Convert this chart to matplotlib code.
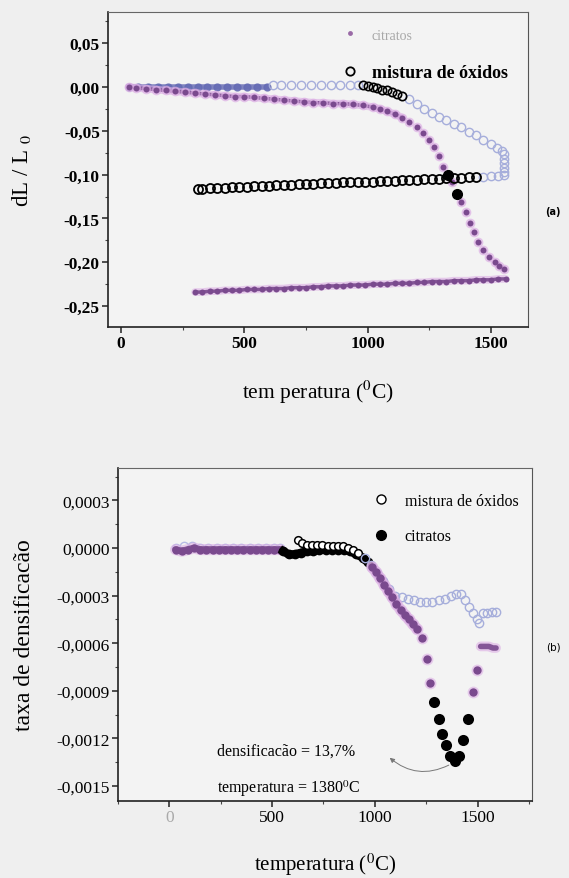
import matplotlib
matplotlib.use('Agg')
import matplotlib.pyplot as plt
from matplotlib.lines import Line2D
from matplotlib.ticker import MultipleLocator, FuncFormatter

plt.rcParams['font.family'] = ['Liberation Serif', 'DejaVu Serif']
plt.rcParams['mathtext.fontset'] = 'stix'

######################################################
# (a) dilatometria  dL/L0 x temperatura

# citratos, aquecimento
citr_heat_T = [30, 60, 100, 140, 180, 220, 260, 300, 340, 380, 420, 460, 500, 540,
               580, 620, 660, 700, 740, 780, 820, 860, 900, 940, 980, 1020, 1050,
               1080, 1110, 1140, 1170, 1200, 1225, 1250, 1270, 1290, 1307, 1342,
               1380, 1398, 1415, 1432, 1450, 1470, 1492, 1515, 1535, 1552]
citr_heat_v = [0.000, -0.001, -0.002, -0.003, -0.004, -0.005, -0.006, -0.007, -0.008,
               -0.009, -0.010, -0.011, -0.011, -0.012, -0.013, -0.014, -0.015, -0.016,
               -0.017, -0.018, -0.018, -0.019, -0.019, -0.020, -0.021, -0.023, -0.025,
               -0.028, -0.031, -0.035, -0.040, -0.046, -0.052, -0.060, -0.068, -0.079,
               -0.091, -0.109, -0.131, -0.143, -0.155, -0.166, -0.177, -0.186, -0.194,
               -0.200, -0.204, -0.208]
# pontos destacados em preto
citr_hl_T = [1327, 1362]
citr_hl_v = [-0.101, -0.122]

# citratos, resfriamento
citr_cool_T = [1560, 1530, 1500, 1470, 1440, 1410, 1380, 1350, 1320, 1290, 1260, 1230,
               1200, 1170, 1140, 1110, 1080, 1050, 1020, 990, 960, 930, 900, 870, 840,
               810, 780, 750, 720, 690, 660, 630, 600, 570, 540, 510, 480, 450, 420,
               390, 360, 330, 300]
citr_cool_v = [-0.219, -0.219, -0.220, -0.220, -0.220, -0.221, -0.221, -0.221, -0.222,
               -0.222, -0.222, -0.223, -0.223, -0.224, -0.224, -0.224, -0.225, -0.225,
               -0.225, -0.226, -0.226, -0.226, -0.227, -0.227, -0.227, -0.228, -0.228,
               -0.229, -0.229, -0.229, -0.230, -0.230, -0.230, -0.231, -0.231, -0.231,
               -0.232, -0.232, -0.232, -0.233, -0.233, -0.234, -0.234]

# mistura de oxidos, aquecimento
mist_low_T = [30, 70, 110, 150, 190, 230, 270, 310, 350, 390, 430, 470, 510, 550, 590]
mist_low_v = [0.000, 0.000, 0.000, 0.000, 0.000, 0.000, 0.000, 0.000, 0.000, 0.000,
              0.000, 0.000, 0.000, 0.000, 0.000]
mist_mid_T = [615, 650, 690, 730, 770, 810, 850, 890, 930, 960]
mist_mid_v = [0.002, 0.002, 0.002, 0.002, 0.002, 0.002, 0.002, 0.002, 0.002, 0.002]
mist_blk_T = [980, 1000, 1020, 1040, 1060, 1080, 1100, 1120, 1140]
mist_blk_v = [0.002, 0.001, 0.000, -0.001, -0.003, -0.004, -0.006, -0.008, -0.010]
mist_high_T = [1170, 1200, 1230, 1260, 1290, 1320, 1350, 1380, 1410, 1440, 1470, 1500,
               1525, 1545, 1552, 1552, 1552, 1552, 1552, 1552, 1530, 1500, 1470]
mist_high_v = [-0.014, -0.020, -0.025, -0.030, -0.034, -0.038, -0.042, -0.046, -0.051,
               -0.055, -0.060, -0.065, -0.070, -0.073, -0.077, -0.082, -0.087, -0.092,
               -0.097, -0.101, -0.102, -0.102, -0.103]
# mistura de oxidos, resfriamento
mist_cool_T = [1440, 1410, 1380, 1350, 1320, 1290, 1260, 1230, 1200, 1170, 1140, 1110,
               1080, 1050, 1020, 990, 960, 930, 900, 870, 840, 810, 780, 750, 720, 690,
               660, 630, 600, 570, 540, 510, 480, 450, 420, 390, 360, 330, 310]
mist_cool_v = [-0.103, -0.103, -0.104, -0.104, -0.104, -0.105, -0.105, -0.105, -0.106,
               -0.106, -0.106, -0.107, -0.107, -0.107, -0.108, -0.108, -0.108, -0.109,
               -0.109, -0.110, -0.110, -0.110, -0.111, -0.111, -0.111, -0.112, -0.112,
               -0.112, -0.113, -0.113, -0.113, -0.114, -0.114, -0.114, -0.115, -0.115,
               -0.115, -0.116, -0.116]

######################################################
# (b) taxa de densificacao x temperatura

b_citr_T = [30, 60, 90, 120, 150, 180, 210, 240, 270, 300, 330, 360, 390, 420, 450,
            480, 510, 540]
b_citr_v = [-0.00001, -0.00002, -0.00001, 0.00000, -0.00001, -0.00001, -0.00001,
            -0.00001, -0.00001, -0.00001, -0.00001, -0.00001, -0.00001, -0.00001,
            -0.00001, -0.00001, -0.00001, -0.00001]
b_citr_blk_T = [555, 580, 610, 640, 670, 700, 730, 760, 790, 820, 850, 880, 910, 940, 965]
b_citr_blk_v = [-0.00002, -0.00004, -0.00004, -0.00003, -0.00002, -0.00002, -0.00001,
                -0.00001, -0.00001, -0.00001, -0.00001, -0.00002, -0.00004, -0.00006,
                -0.00009]
b_citr_dn_T = [985, 1005, 1025, 1045, 1065, 1085, 1105, 1125, 1145, 1165, 1185, 1205,
               1228, 1252, 1267]
b_citr_dn_v = [-0.00012, -0.00015, -0.00019, -0.00023, -0.00027, -0.00031, -0.00035,
               -0.00039, -0.00042, -0.00045, -0.00048, -0.00051, -0.00057, -0.00070,
               -0.00085]
b_citr_min_T = [1290, 1310, 1327, 1347, 1366, 1388, 1408, 1430, 1455]
b_citr_min_v = [-0.00097, -0.00108, -0.00117, -0.00124, -0.00131, -0.00134, -0.00131,
                -0.00121, -0.00108]
b_citr_up_T = [1480, 1495]
b_citr_up_v = [-0.00091, -0.00077]
b_citr_end_T = [1515, 1535, 1555, 1575, 1590]
b_citr_end_v = [-0.00062, -0.00062, -0.00062, -0.00063, -0.00063]

b_mist_low_T = [30, 70, 110, 150, 190, 230, 270, 310, 350, 390, 430, 470, 510, 540]
b_mist_low_v = [0.00000, 0.00001, 0.00001, 0.00000, 0.00000, 0.00000, 0.00000, 0.00000,
                0.00000, 0.00000, 0.00000, 0.00000, 0.00000, 0.00000]
b_mist_blk_T = [624, 645, 670, 695, 720, 745, 770, 795, 820, 845, 870, 895, 920]
b_mist_blk_v = [0.00005, 0.00003, 0.00002, 0.00002, 0.00002, 0.00002, 0.00001, 0.00001,
                0.00001, 0.00001, 0.00000, -0.00001, -0.00003]
b_mist_hi_T = [950, 980, 1010, 1040, 1070, 1100, 1130, 1160, 1190, 1220, 1250, 1280, 1310,
               1340, 1370, 1395, 1418, 1440, 1460, 1480, 1497, 1508, 1528, 1548, 1568, 1588]
b_mist_hi_v = [-0.00006, -0.00011, -0.00016, -0.00021, -0.00026, -0.00030, -0.00031,
               -0.00032, -0.00033, -0.00034, -0.00034, -0.00034, -0.00033, -0.00032,
               -0.00030, -0.00029, -0.00029, -0.00033, -0.00037, -0.00041, -0.00045,
               -0.00047, -0.00041, -0.00041, -0.00040, -0.00040]

arrow_tail = (1372, -0.00136)
arrow_head = (1062, -0.00131)

######################################################

purple = '#7a4a8e'
halo = '#dcaee4'
lightblue = '#a6aedb'
bandblue = '#646ab4'
bg = '#efefef'

fig = plt.figure(figsize=(5.69, 8.79), dpi=100, facecolor=bg)

def style_axes(ax, bold, size):
    ax.set_facecolor('#f3f3f3')
    for s in ['left', 'bottom']:
        ax.spines[s].set_color('#222222')
        ax.spines[s].set_linewidth(1.2)
    ax.spines['top'].set_color('#666666')
    ax.spines['right'].set_color('#555555')
    ax.tick_params(which='major', direction='out', length=4, width=1.1,
                   labelsize=size, color='#222222', pad=2)
    ax.tick_params(which='minor', direction='out', length=2.5, width=0.8, color='#444444')
    ax.tick_params(top=False, right=False, which='both')
    if bold:
        for t in ax.get_xticklabels() + ax.get_yticklabels():
            t.set_fontweight('bold')

def band(ax, x, y, w):
    # trilha continua por baixo dos marcadores
    ax.plot(x, y, '-', lw=w + 3, color=halo, alpha=0.6, solid_capstyle='round')
    ax.plot(x, y, '-', lw=w, color=purple, alpha=0.9, solid_capstyle='round')

# ---------- (a)
ax1 = fig.add_axes([0.190, 0.6268, 0.738, 0.3584])
ax1.plot(mist_low_T, mist_low_v, '-', lw=4, color=bandblue, alpha=0.8)
ax1.plot(mist_low_T, mist_low_v, 'o', ms=5, mfc=bandblue, mec=bandblue, alpha=0.8)
band(ax1, citr_heat_T[:30], citr_heat_v[:30], 2.5)
band(ax1, citr_cool_T, citr_cool_v, 2.5)
ax1.plot(citr_heat_T, citr_heat_v, 'o', ms=7, color=halo, mec='none', alpha=0.7)
ax1.plot(citr_heat_T, citr_heat_v, 'o', ms=4.3, color=purple, mec='none')
ax1.plot(citr_cool_T, citr_cool_v, 'o', ms=4.3, color=purple, mec='none')
ax1.plot(mist_mid_T, mist_mid_v, 'o', ms=6, mfc='none', mec=lightblue, mew=1)
ax1.plot(mist_high_T, mist_high_v, 'o', ms=6, mfc='none', mec=lightblue, mew=1)
ax1.plot(mist_blk_T, mist_blk_v, 'o', ms=6, mfc='none', mec='black', mew=1.2)
ax1.plot(mist_cool_T, mist_cool_v, 'o', ms=6.5, mfc='none', mec='black', mew=1.3)
ax1.plot(citr_hl_T, citr_hl_v, 'o', ms=7, color='black')

ax1.set_xlim(-53, 1651)
ax1.set_ylim(-0.2739, 0.0855)
ax1.xaxis.set_major_locator(MultipleLocator(500))
ax1.xaxis.set_minor_locator(MultipleLocator(250))
ax1.yaxis.set_major_locator(MultipleLocator(0.05))
ax1.yaxis.set_minor_locator(MultipleLocator(0.025))
ax1.yaxis.set_major_formatter(FuncFormatter(lambda v, p: ('%.2f' % v).replace('.', ',').replace('-0,00', '0,00')))
style_axes(ax1, True, 12.5)
ax1.set_xlabel(r'tem peratura ($^{\rm 0}$C)', fontsize=15.5)
ax1.xaxis.set_label_coords(0.5, -0.16)
ax1.set_ylabel(r'dL / L $_{\rm 0}$', fontsize=16.5)
ax1.yaxis.set_label_coords(-0.18, 0.5)

h1 = [Line2D([], [], ls='none', marker='o', ms=3.5, color='#9a6aa6', mec='none'),
      Line2D([], [], ls='none', marker='o', ms=6, mfc='none', mec='black', mew=1.3)]
leg1 = ax1.legend(h1, ['citratos', 'mistura de óxidos'], loc='upper left',
                  bbox_to_anchor=(0.555, 0.955), frameon=False, fontsize=13,
                  handlelength=1.0, handletextpad=0.7, labelspacing=1.25,
                  borderpad=0, borderaxespad=0)
leg1.get_texts()[0].set_color('#a8a8a8')
leg1.get_texts()[0].set_fontsize(10)
leg1.get_texts()[1].set_fontweight('bold')
fig.text(0.972, 1 - 212 / 879, '(a)', family='DejaVu Sans', fontsize=7,
         fontweight='bold', ha='center', va='center')

# ---------- (b)
ax2 = fig.add_axes([0.2074, 0.0876, 0.7276, 0.3788])
ax2.plot(b_mist_low_T, b_mist_low_v, 'o', ms=6, mfc='none', mec='#b6bae4', mew=1)
band(ax2, b_citr_T, b_citr_v, 5)
ax2.plot(b_citr_T, b_citr_v, 'o', ms=6, color=purple, mec='none')
ax2.plot(b_citr_blk_T, b_citr_blk_v, '-', lw=6, color='black')
ax2.plot(b_citr_blk_T, b_citr_blk_v, 'o', ms=7, color='black', mec='none')
ax2.plot(b_mist_blk_T, b_mist_blk_v, 'o', ms=5.5, mfc='white', mec='black', mew=1.1)
ax2.plot(b_mist_hi_T, b_mist_hi_v, 'o', ms=6, mfc='none', mec=lightblue, mew=1)
band(ax2, b_citr_dn_T[:12], b_citr_dn_v[:12], 5)
ax2.plot(b_citr_dn_T, b_citr_dn_v, 'o', ms=8.5, color=halo, mec='none', alpha=0.6)
ax2.plot(b_citr_dn_T, b_citr_dn_v, 'o', ms=6, color=purple, mec='none')
ax2.plot(b_citr_up_T, b_citr_up_v, 'o', ms=8.5, color=halo, mec='none', alpha=0.6)
ax2.plot(b_citr_up_T, b_citr_up_v, 'o', ms=6, color=purple, mec='none')
band(ax2, b_citr_end_T, b_citr_end_v, 4)
ax2.plot(b_citr_min_T, b_citr_min_v, 'o', ms=8, color='black', mec='none')

ax2.set_xlim(-250, 1765)
ax2.set_ylim(-0.001594, 0.000504)
ax2.xaxis.set_major_locator(MultipleLocator(500))
ax2.xaxis.set_minor_locator(MultipleLocator(250))
ax2.yaxis.set_major_locator(MultipleLocator(0.0003))
ax2.yaxis.set_minor_locator(MultipleLocator(0.00015))
ax2.yaxis.set_major_formatter(FuncFormatter(lambda v, p: ('%.4f' % v).replace('.', ',').replace('-0,0000', '0,0000')))
style_axes(ax2, False, 12.5)
for t in ax2.get_xticklabels():
    if t.get_text() == '0':
        t.set_color('#aaaaaa')
ax2.set_xlabel(r'temperatura ($^{\rm 0}$C)', fontsize=15)
ax2.xaxis.set_label_coords(0.5, -0.148)
ax2.set_ylabel('taxa de densificacão', fontsize=17)
ax2.yaxis.set_label_coords(-0.2, 0.5)

h2 = [Line2D([], [], ls='none', marker='o', ms=6.5, mfc='white', mec='black', mew=1),
      Line2D([], [], ls='none', marker='o', ms=7, color='black')]
ax2.legend(h2, ['mistura de óxidos', 'citratos'], loc='upper left',
           bbox_to_anchor=(0.615, 0.925), frameon=False, fontsize=11.5,
           handlelength=1.0, handletextpad=1.0, labelspacing=1.2,
           borderpad=0, borderaxespad=0)

ax2.annotate('', xy=arrow_head, xytext=arrow_tail,
             arrowprops=dict(arrowstyle='-|>', color='#777777', lw=0.7,
                             mutation_scale=7,
                             connectionstyle='arc3,rad=-0.35'))
ax2.text(0.24, 0.15, 'densificacão = 13,7%', transform=ax2.transAxes,
         fontsize=11.5, va='center')
ax2.text(0.24, 0.04, r'temperatura = 1380$^{\rm 0}$C', transform=ax2.transAxes,
         fontsize=11.5, va='center')
fig.text(0.972, 1 - 648 / 879, '(b)', family='DejaVu Sans', fontsize=7.5,
         ha='center', va='center')

fig.savefig('out.png', dpi=100, facecolor=bg)
